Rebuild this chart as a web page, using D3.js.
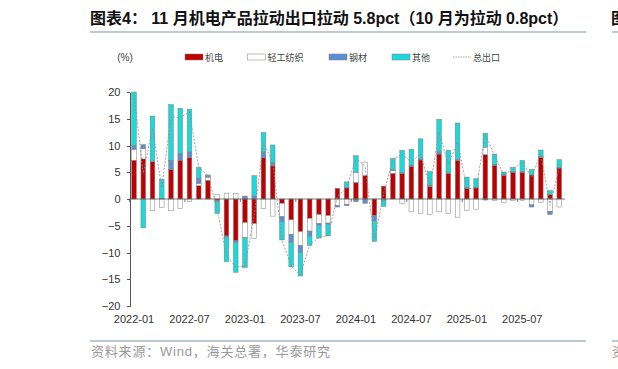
<!DOCTYPE html>
<html>
<head>
    <meta charset="utf-8">
    <title>机电产品拉动出口</title>
    <script src="https://d3js.org/d3.v7.min.js"></script>
    <style>
        body { margin: 0; background: #fff; }
        svg { display: block; font-family: "Liberation Sans", "Noto Sans CJK SC", sans-serif; }
        .axis text { font-size: 11px; fill: #333; }
        .axis path, .axis line { stroke: #555; shape-rendering: crispEdges; }
        .title { font-size: 16px; font-weight: bold; fill: #111; }
        .legend text { font-family: "Noto Sans CJK SC", sans-serif; font-size: 9px; fill: #444; }
        .source { font-family: "Liberation Sans", "Noto Sans CJK SC", sans-serif; font-size: 13px; letter-spacing: 0.8px; fill: #999; }
        .rule { stroke: #a9b7c9; stroke-width: 1.5; }
        .line-total { fill: none; stroke: #8c8c8c; stroke-width: 0.8; stroke-dasharray: 2,1.5; }
    </style>
</head>
<body>
<svg width="618" height="369"></svg>
<script>
    // 月份
    var months = [
        "2022-01","2022-02","2022-03","2022-04","2022-05","2022-06","2022-07","2022-08","2022-09","2022-10","2022-11","2022-12",
        "2023-01","2023-02","2023-03","2023-04","2023-05","2023-06","2023-07","2023-08","2023-09","2023-10","2023-11","2023-12",
        "2024-01","2024-02","2024-03","2024-04","2024-05","2024-06","2024-07","2024-08","2024-09","2024-10","2024-11","2024-12",
        "2025-01","2025-02","2025-03","2025-04","2025-05","2025-06","2025-07","2025-08","2025-09","2025-10","2025-11"
    ];
    var xTicks = ["2022-01","2022-07","2023-01","2023-07","2024-01","2024-07","2025-01","2025-07"];

    // 拉动 (pct)
    var jidian = [7.25,7.5,7.0,0.1,5.5,7.25,7.7,2.5,3.5,-0.3,-6.9,-7.8,
                  -4.4,-4.6,7.7,6.2,-0.8,-3.9,-6.1,-3.6,-2.9,-3.1,2.0,2.1,
                  3.1,4.4,-3.1,2.4,4.8,4.8,6.1,7.3,2.3,8.4,4.8,7.2,
                  2.0,2.1,8.3,6.3,4.4,5.0,5.0,4.5,7.8,0.8,5.8];
    var qinggong = [2.05,1.9,-2.2,-1.6,-2.2,-1.8,-0.5,0.4,0.6,0.8,1.1,1.0,
                    -2.8,-2.8,-1.8,-3.2,-2.5,-2.7,-2.6,-2.4,-1.7,-1.4,-1.25,-1.0,
                    1.9,2.5,0,0,0.55,-0.8,-2.4,-2.7,-2.9,-2.4,-2.7,-3.4,
                    -2.1,-1.9,1.4,-0.3,-0.6,-0.3,-0.3,-1.1,-0.6,-2.3,-1.5];
    var gangcai = [0.7,0.75,0,0,1.75,1.3,1.1,1.0,0.2,-0.2,-0.2,-0.3,
                   0.55,0.55,1.1,0.6,-0.95,-1.5,-1.3,-0.9,-0.3,-0.2,-0.25,-0.25,
                   -0.5,-0.8,-1.0,-0.3,0.1,0.1,0.2,0.2,0.3,0.5,0.1,0.2,
                   0.2,0.1,-0.2,0.1,0.25,0.1,0.1,-0.4,0.1,-0.6,0.1];
    var qita = [10.0,-5.4,8.5,3.6,10.4,8.4,8.0,2.0,0.2,-2.2,-4.6,-5.6,
                -5.6,3.8,3.6,3.3,-3.4,-4.6,-4.4,-1.75,-2.4,-2.2,0,1.1,
                3.1,0,-3.8,-1.1,2.1,4.2,3.0,3.75,2.5,6.0,4.2,6.8,
                1.9,1.6,2.6,2.0,0.4,0.8,2.1,1.0,1.25,0.75,1.45];
    var total = [19.5,4.8,13.2,2.1,15.4,15.2,16.3,5.9,4.4,-2.0,-10.6,-12.7,
                 -12.6,-3.0,10.6,6.9,-7.6,-12.6,-14.2,-8.6,-7.2,-6.8,0.5,2.0,
                 7.6,6.1,-7.8,1.0,7.5,8.3,6.9,8.5,2.2,12.5,6.4,10.7,
                 2.0,1.9,12.1,8.1,4.5,5.6,6.9,4.1,8.5,-1.2,5.9];

    var keys = ["jidian","qinggong","gangcai","qita"];
    var names = {jidian: "机电", qinggong: "轻工纺织", gangcai: "钢材", qita: "其他"};
    var colors = {jidian: "#c00000", qinggong: "#ffffff", gangcai: "#5b8fd2", qita: "#19d9db"};

    var data = months.map(function(m, i) {
        return {month: m, jidian: jidian[i], qinggong: qinggong[i], gangcai: gangcai[i], qita: qita[i], total: total[i]};
    });

    var svg = d3.select("svg");

    var x = d3.scaleBand()
        .domain(months)
        .range([129.4, 563.9])
        .paddingInner(0.5)
        .paddingOuter(0.25);

    var y = d3.scaleLinear()
        .domain([-20, 20])
        .range([306, 92]);

    // title + rules
    svg.append("text")
        .attr("class", "title")
        .attr("x", 90)
        .attr("y", 24)
        .text("图表4：  11 月机电产品拉动出口拉动 5.8pct（10 月为拉动 0.8pct）");
    svg.append("text")
        .attr("class", "title")
        .attr("x", 611)
        .attr("y", 24)
        .text("图表5：");
    svg.append("line").attr("class", "rule").attr("x1", 90).attr("x2", 586).attr("y1", 32).attr("y2", 32);
    svg.append("line").attr("class", "rule").attr("x1", 612).attr("x2", 618).attr("y1", 32).attr("y2", 32);
    svg.append("line").attr("class", "rule").attr("x1", 90).attr("x2", 586).attr("y1", 341).attr("y2", 341);
    svg.append("line").attr("class", "rule").attr("x1", 612).attr("x2", 618).attr("y1", 341).attr("y2", 341);

    svg.append("text")
        .attr("class", "source")
        .attr("x", 91)
        .attr("y", 356)
        .text("资料来源：Wind，海关总署，华泰研究");
    svg.append("text")
        .attr("class", "source")
        .attr("x", 612)
        .attr("y", 356)
        .text("资料来源");

    // unit
    svg.append("text")
        .attr("x", 125)
        .attr("y", 61)
        .attr("text-anchor", "middle")
        .style("font-size", "10px")
        .style("fill", "#444")
        .text("(%)");

    // legend
    var legend = svg.append("g").attr("class", "legend");
    var legendX = [185, 247.5, 329, 392];
    keys.forEach(function(k, i) {
        legend.append("rect")
            .attr("x", legendX[i])
            .attr("y", 54)
            .attr("width", 18)
            .attr("height", 6)
            .attr("fill", colors[k])
            .attr("stroke", "#7f7f7f")
            .attr("stroke-width", 0.5);
        legend.append("text")
            .attr("x", legendX[i] + 20)
            .attr("y", 60.5)
            .text(names[k]);
    });
    legend.append("line")
        .attr("x1", 453).attr("x2", 471)
        .attr("y1", 57).attr("y2", 57)
        .attr("stroke", "#8c8c8c")
        .attr("stroke-width", 0.8)
        .attr("stroke-dasharray", "1.5,1");
    legend.append("text")
        .attr("x", 473)
        .attr("y", 60.5)
        .text("总出口");

    // y axis
    svg.append("g")
        .attr("class", "axis")
        .attr("transform", "translate(129.5,0)")
        .call(d3.axisLeft(y).tickValues([-20, -15, -10, -5, 0, 5, 10, 15, 20]).tickSize(3).tickSizeOuter(0).tickPadding(6));

    // stacked bars
    var series = d3.stack().keys(keys).offset(d3.stackOffsetDiverging)(data);

    svg.append("g")
        .selectAll("g")
        .data(series)
        .enter().append("g")
        .attr("fill", function(d) { return colors[d.key]; })
        .selectAll("rect")
        .data(function(d) { return d; })
        .enter().append("rect")
        .attr("x", function(d) { return x(d.data.month); })
        .attr("width", x.bandwidth())
        .attr("y", function(d) { return y(Math.max(d[0], d[1])); })
        .attr("height", function(d) { return Math.abs(y(d[0]) - y(d[1])); })
        .attr("stroke", "#7f7f7f")
        .attr("stroke-width", 0.5);

    // zero line + x ticks
    svg.append("line")
        .attr("x1", 129.5).attr("x2", 565)
        .attr("y1", y(0)).attr("y2", y(0))
        .attr("stroke", "#555")
        .attr("stroke-width", 0.8);

    svg.append("g")
        .selectAll("line")
        .data(xTicks)
        .enter().append("line")
        .attr("x1", function(d) { return x(d) - x.step() * x.paddingInner() / 2; })
        .attr("x2", function(d) { return x(d) - x.step() * x.paddingInner() / 2; })
        .attr("y1", y(0))
        .attr("y2", y(0) + 3)
        .attr("stroke", "#555")
        .attr("stroke-width", 0.8);

    svg.append("g")
        .attr("class", "axis")
        .selectAll("text")
        .data(xTicks)
        .enter().append("text")
        .attr("x", function(d) { return x(d) + x.bandwidth() / 2; })
        .attr("y", 323)
        .attr("text-anchor", "middle")
        .text(function(d) { return d; });

    // 总出口 line
    var line = d3.line()
        .x(function(d) { return x(d.month) + x.bandwidth() / 2; })
        .y(function(d) { return y(d.total); });

    svg.append("path")
        .datum(data)
        .attr("class", "line-total")
        .attr("d", line);
</script>
</body>
</html>
